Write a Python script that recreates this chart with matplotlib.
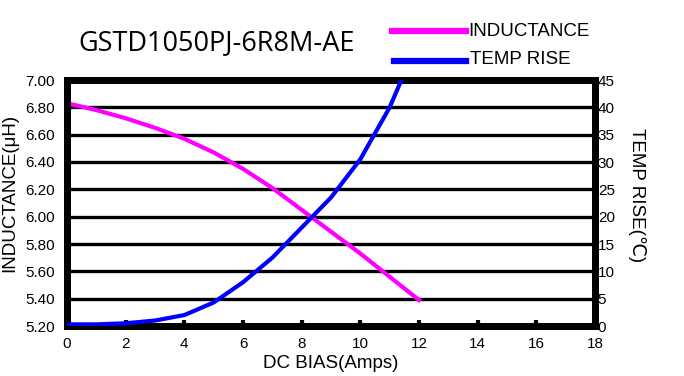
import matplotlib
matplotlib.use('Agg')
import matplotlib.pyplot as plt
from matplotlib.lines import Line2D

plt.rcParams['font.family'] = ['Liberation Sans', 'DejaVu Sans']

# 读图得到的数据
amps_l = [0, 1, 2, 3, 4, 5, 6, 7, 8, 9, 10, 11, 12]
inductance = [6.83, 6.78, 6.72, 6.65, 6.57, 6.47, 6.35, 6.21, 6.05, 5.89, 5.73, 5.56, 5.39]
amps_t = [0, 1, 2, 3, 4, 5, 6, 7, 8, 9, 10, 11, 11.4]
temp_rise = [0.3, 0.3, 0.5, 1.0, 2.0, 4.3, 8.0, 12.5, 18.0, 23.5, 30.5, 40.0, 45.0]
x_ticks = list(range(0, 19, 2))
l_ticks = [5.2, 5.4, 5.6, 5.8, 6.0, 6.2, 6.4, 6.6, 6.8, 7.0]
r_ticks = list(range(0, 46, 5))

W, H = 684, 376
fig = plt.figure(figsize=(W/100, H/100), dpi=100)
ax = fig.add_axes([67/W, 1-326/H, (595-67)/W, (326-80)/H])
ax2 = ax.twinx()

ax.set_xlim(0, 18)
ax.set_ylim(5.2, 7.0)
ax2.set_ylim(0, 45)

for y in l_ticks:
    ax.axhline(y, color='black', lw=2.4, zorder=1)

ax.plot(amps_l, inductance, color='#FF00FF', lw=3, zorder=3)
ax2.plot(amps_t, temp_rise, color='#0000FF', lw=3, zorder=3)

for a in (ax, ax2):
    for s in a.spines.values():
        s.set_linewidth(5)
        s.set_color('black')

ax.set_xticks(x_ticks)
ax.set_yticks(l_ticks)
ax.set_yticklabels(['%.2f' % v for v in l_ticks])
ax2.set_yticks(r_ticks)
ax.tick_params(axis='x', direction='in', length=4, width=3, labelsize=11, pad=8)
ax.tick_params(axis='y', length=0, labelsize=11, pad=9)
ax2.tick_params(axis='y', length=0, labelsize=11, pad=2)

ax.set_xlabel('DC BIAS(Amps)', fontsize=13.5, labelpad=3)
ax.set_ylabel('INDUCTANCE(μH)', fontsize=13.5, va='center')
ax.yaxis.set_label_coords(-0.108, 0.54)
ax2.set_ylabel('TEMP RISE(℃)', fontsize=13.5, rotation=-90, va='center')
ax2.yaxis.set_label_coords(1.080, 0.533)

fig.text(78/W, 1-50/H, 'GSTD1050PJ-6R8M-AE', fontsize=19.5, family='Open Sans',
         va='baseline', ha='left')

# 图例（手动画）
fig.add_artist(Line2D([392/W, 466/W], [1-31/H, 1-31/H], color='#FF00FF', lw=4.5))
fig.add_artist(Line2D([394/W, 466/W], [1-61/H, 1-61/H], color='#0000FF', lw=4.5))
fig.text(468/W, 1-31/H, 'INDUCTANCE', fontsize=13.5, va='center', ha='left')
fig.text(470/W, 1-59/H, 'TEMP RISE', fontsize=13.5, va='center', ha='left')

fig.savefig('out.png', dpi=100)
